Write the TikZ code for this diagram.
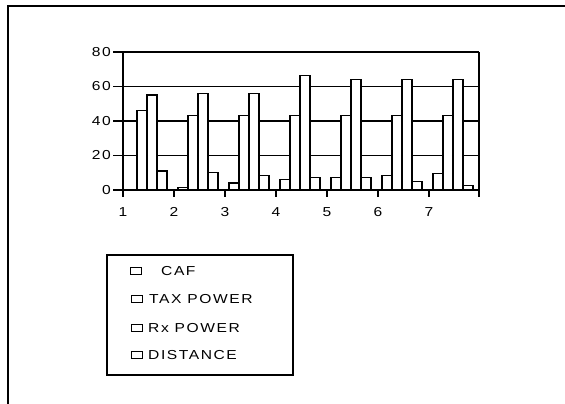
\documentclass[tikz,border=0pt]{standalone}
\usepackage{fontspec}
\newfontfamily\chartfont[FakeStretch=1.2,LetterSpace=12.0]{Liberation Sans}
\begin{document}
\begin{tikzpicture}[x=1pt,y=1pt,
  bar/.style={draw=black,fill=white,line width=1.3pt},
  rule/.style={black,line width=1.5pt},
  key/.style={draw=black,line width=1.2pt,minimum width=11pt,minimum height=7pt}]
\tikzstyle{every node}+=[inner sep=0pt,font=\chartfont\fontsize{13}{15}\selectfont]
\useasboundingbox (0,0) rectangle (565,-404);
% outer frame
\draw [black,line width=1.6pt] (8,-404) -- (8,-6) -- (565,-6);
% chart
\begin{scope}[shift={(123,-190)},y=1.725pt]
\draw [rule] (0,20) -- (356,20);
\draw [rule] (0,40) -- (356,40);
\draw [rule] (0,60) -- (356,60);
\draw [rule] (0,80) -- (356,80);
\draw [bar] (14,0) rectangle (24,46);
\draw [bar] (24,0) rectangle (34,55);
\draw [bar] (34,0) rectangle (44,11);
\draw [bar] (55,0) rectangle (65,1.5);
\draw [bar] (65,0) rectangle (75,43);
\draw [bar] (75,0) rectangle (85,56);
\draw [bar] (85,0) rectangle (95,10);
\draw [bar] (106,0) rectangle (116,4);
\draw [bar] (116,0) rectangle (126,43);
\draw [bar] (126,0) rectangle (136,56);
\draw [bar] (136,0) rectangle (146,8.5);
\draw [bar] (157,0) rectangle (167,6);
\draw [bar] (167,0) rectangle (177,43);
\draw [bar] (177,0) rectangle (187,66.5);
\draw [bar] (187,0) rectangle (197,7.4);
\draw [bar] (208,0) rectangle (218,7.4);
\draw [bar] (218,0) rectangle (228,43);
\draw [bar] (228,0) rectangle (238,64);
\draw [bar] (238,0) rectangle (248,7.4);
\draw [bar] (259,0) rectangle (269,8.5);
\draw [bar] (269,0) rectangle (279,43);
\draw [bar] (279,0) rectangle (289,64);
\draw [bar] (289,0) rectangle (299,5);
\draw [bar] (310,0) rectangle (320,9.7);
\draw [bar] (320,0) rectangle (330,43);
\draw [bar] (330,0) rectangle (340,64);
\draw [bar] (340,0) rectangle (350,2.7);
% axes and ticks
\draw [rule] (0,-4) -- (0,80);
\draw [rule] (356,-4) -- (356,80);
\draw [rule] (0,0) -- (356,0);
\draw [rule] (51,0) -- (51,-4);
\draw [rule] (102,0) -- (102,-4);
\draw [rule] (153,0) -- (153,-4);
\draw [rule] (204,0) -- (204,-4);
\draw [rule] (255,0) -- (255,-4);
\draw [rule] (306,0) -- (306,-4);
\draw [rule] (-10,0) -- (0,0);
\draw [rule] (-10,20) -- (0,20);
\draw [rule] (-10,40) -- (0,40);
\draw [rule] (-10,60) -- (0,60);
\draw [rule] (-10,80) -- (0,80);
\draw (-12,0) node [anchor=east] (y0) {0};
\draw (-12,20) node [anchor=east] (y20) {20};
\draw (-12,40) node [anchor=east] (y40) {40};
\draw (-12,60) node [anchor=east] (y60) {60};
\draw (-12,80) node [anchor=east] (y80) {80};
\draw (0,-12.8) node (x1) {1};
\draw (51,-12.8) node (x2) {2};
\draw (102,-12.8) node (x3) {3};
\draw (153,-12.8) node (x4) {4};
\draw (204,-12.8) node (x5) {5};
\draw (255,-12.8) node (x6) {6};
\draw (306,-12.8) node (x7) {7};
\end{scope}
% legend
\draw [black,line width=1.3pt] (107,-255) rectangle (293,-375);
\node [key] (kcaf) at (136,-271) {};
\node [key] (ktax) at (137,-299) {};
\node [key] (krx) at (137,-328) {};
\node [key] (kdist) at (137,-355) {};
\node [anchor=west] (lcaf) at (161,-271) {CAF};
\node [anchor=west] (ltax) at (149,-299) {TAX POWER};
\node [anchor=west] (lrx) at (148,-328) {Rx POWER};
\node [anchor=west] (ldist) at (148,-355) {DISTANCE};
\end{tikzpicture}
\end{document}
